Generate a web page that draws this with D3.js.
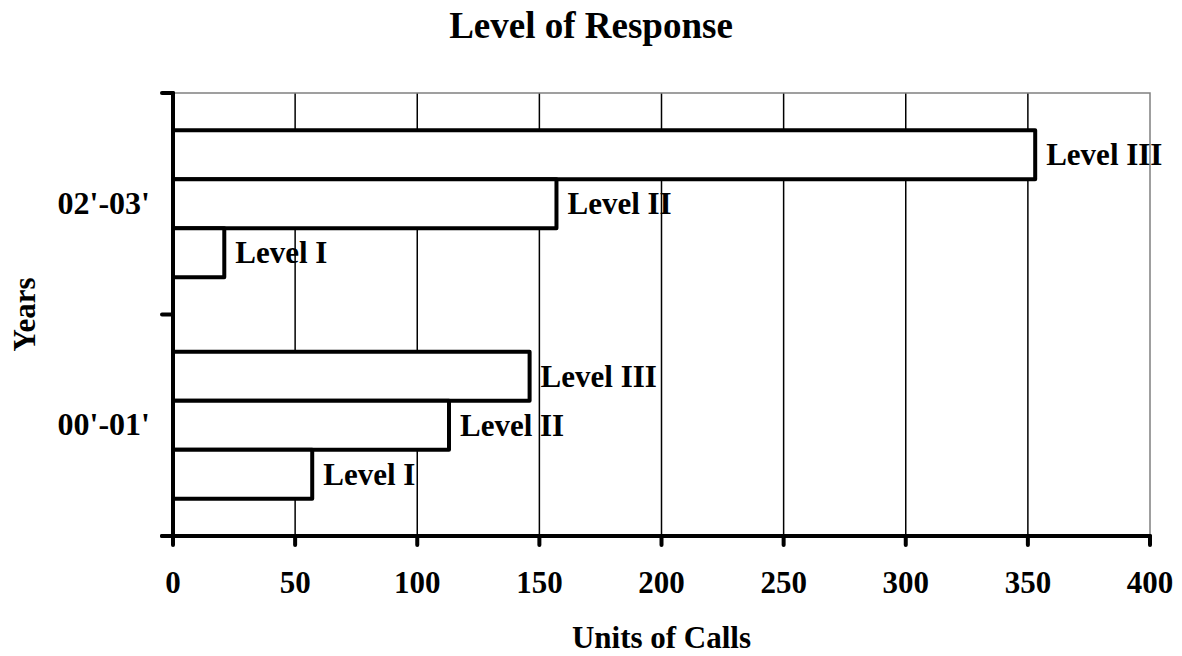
<!DOCTYPE html>
<html>
<head>
<meta charset="utf-8">
<script src="https://cdn.jsdelivr.net/npm/d3@7"></script>
<style>
  body { margin: 0; background: #fff; }
  text { font-family: "Liberation Serif", "Times New Roman", serif; font-weight: bold; fill: #000; }
</style>
</head>
<body>
<svg id="chart" width="1182" height="656"></svg>
<script>
// --- Data ---
const years = ["02'-03'", "00'-01'"];
const levels = ["Level III", "Level II", "Level I"];
const calls0203 = [353, 157, 21];
const calls0001 = [146, 113, 57];
const xTicks = [0, 50, 100, 150, 200, 250, 300, 350, 400];

const rows = [
  { year: years[0], values: calls0203 },
  { year: years[1], values: calls0001 }
];

// --- Layout ---
const W = 1182, H = 656;
const plot = { left: 173, right: 1150, top: 93, bottom: 536 };
const FS = 31;

const svg = d3.select("#chart");

const x = d3.scaleLinear().domain([0, 400]).range([plot.left, plot.right]);
const y = d3.scaleBand().domain(years).range([plot.top, plot.bottom]).padding(0);
const yInner = d3.scaleBand().domain(levels).range([0, y.bandwidth()]).paddingInner(0).paddingOuter(0.76);

// title
svg.append("text")
  .attr("x", W / 2).attr("y", 38)
  .attr("text-anchor", "middle")
  .style("font-size", "37px")
  .text("Level of Response");

// gridlines
svg.append("g").selectAll("line")
  .data(xTicks.filter(d => d > 0 && d < 400))
  .join("line")
  .attr("x1", d => x(d)).attr("x2", d => x(d))
  .attr("y1", plot.top).attr("y2", plot.bottom)
  .attr("stroke", "#000").attr("stroke-width", 1.5);

// top & right border
svg.append("path")
  .attr("d", `M${plot.left},${plot.top}H${plot.right}V${plot.bottom}`)
  .attr("fill", "none").attr("stroke", "#808080").attr("stroke-width", 1.5);

// bars
const groups = svg.append("g").selectAll("g")
  .data(rows)
  .join("g")
  .attr("transform", d => `translate(0,${y(d.year)})`);

groups.selectAll("rect")
  .data(d => d.values.map((v, i) => ({ level: levels[i], value: v })))
  .join("rect")
  .attr("x", x(0))
  .attr("y", d => yInner(d.level))
  .attr("width", d => x(d.value) - x(0))
  .attr("height", yInner.bandwidth())
  .attr("fill", "#fff")
  .attr("stroke", "#000").attr("stroke-width", 4)
  .attr("stroke-linejoin", "round");

// bar labels
groups.selectAll("text")
  .data(d => d.values.map((v, i) => ({ level: levels[i], value: v })))
  .join("text")
  .attr("x", d => x(d.value) + 11)
  .attr("y", d => yInner(d.level) + yInner.bandwidth() / 2 + 10.5)
  .style("font-size", FS + "px")
  .text(d => d.level);

// x axis
const xAxis = svg.append("g").attr("transform", `translate(0,${plot.bottom})`);
xAxis.append("line")
  .attr("x1", plot.left - 11).attr("x2", plot.right)
  .attr("stroke", "#000").attr("stroke-width", 4).attr("stroke-linecap", "round");
xAxis.selectAll(".tick")
  .data(xTicks)
  .join("line")
  .attr("x1", d => x(d)).attr("x2", d => x(d))
  .attr("y1", 0).attr("y2", 9)
  .attr("stroke", "#000").attr("stroke-width", 4).attr("stroke-linecap", "round");
xAxis.selectAll("text")
  .data(xTicks)
  .join("text")
  .attr("x", d => x(d)).attr("y", 57)
  .attr("text-anchor", "middle")
  .style("font-size", FS + "px")
  .text(d => d);

svg.append("text")
  .attr("x", (plot.left + plot.right) / 2).attr("y", 648)
  .attr("text-anchor", "middle")
  .style("font-size", FS + "px")
  .text("Units of Calls");

// y axis
const yAxis = svg.append("g");
yAxis.append("line")
  .attr("x1", plot.left).attr("x2", plot.left)
  .attr("y1", plot.top).attr("y2", plot.bottom)
  .attr("stroke", "#000").attr("stroke-width", 4).attr("stroke-linecap", "round");
const yTickPos = years.map(d => y(d)).concat([plot.bottom]);
yAxis.selectAll(".tick")
  .data(yTickPos)
  .join("line")
  .attr("x1", plot.left - 11).attr("x2", plot.left)
  .attr("y1", d => d).attr("y2", d => d)
  .attr("stroke", "#000").attr("stroke-width", 4).attr("stroke-linecap", "round");
yAxis.selectAll("text")
  .data(years)
  .join("text")
  .attr("x", 150)
  .attr("y", d => y(d) + y.bandwidth() / 2 + 10)
  .attr("text-anchor", "end")
  .style("font-size", "32px")
  .text(d => d);

svg.append("text")
  .attr("transform", `translate(35,${(plot.top + plot.bottom) / 2}) rotate(-90)`)
  .attr("text-anchor", "middle")
  .style("font-size", FS + "px")
  .text("Years");
</script>
</body>
</html>
